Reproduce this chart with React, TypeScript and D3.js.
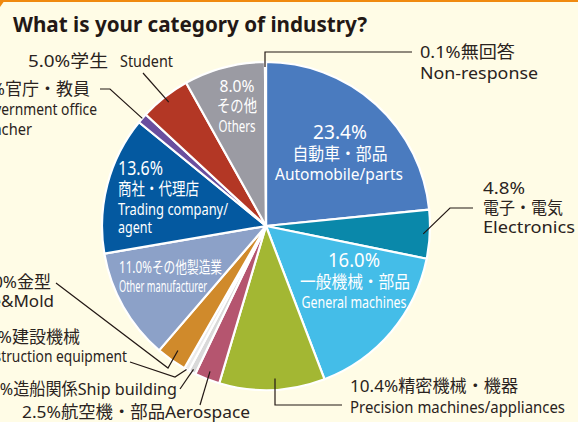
import React from "react";
import * as d3 from "d3";

// slices clockwise from 12 o'clock
const categories = [
  "Automobile/parts", "Electronics", "General machines", "Precision machines/appliances",
  "Aerospace", "Ship building", "Construction equipment", "Die&Mold",
  "Other manufacturer", "Trading company/agent", "Government office/Teacher",
  "Student", "Others", "Non-response",
];
const shares = [23.4, 4.8, 16.0, 10.4, 2.5, 0.7, 0.5, 3.0, 11.0, 13.6, 1.0, 5.0, 8.0, 0.1];
const sliceColors = [
  "#4a7bbf", "#0a88aa", "#44bde8", "#a3b733", "#b5556f", "#d9d9d9", "#ebebeb",
  "#d08a2b", "#8ca1c8", "#0459a0", "#6a4e9e", "#b33725", "#9b9ba3", "#e4e4e4",
];
const labelText = [
  ["23.4%", "自動車・部品", "Automobile/parts"],
  ["4.8%", "電子・電気", "Electronics"],
  ["16.0%", "一般機械・部品", "General machines"],
  ["10.4%精密機械・機器", "Precision machines/appliances"],
  ["2.5%航空機・部品Aerospace"],
  ["0.7%造船関係Ship building"],
  ["0.5%建設機械", "Construction equipment"],
  ["3.0%金型", "Die&Mold"],
  ["11.0%その他製造業", "Other manufacturer"],
  ["13.6%", "商社・代理店", "Trading company/", "agent"],
  ["1.0%官庁・教員", "Government office", "Teacher"],
  ["5.0%学生", "Student"],
  ["8.0%", "その他", "Others"],
  ["0.1%無回答", "Non-response"],
];
const title = "What is your category of industry?";

const W = 578, H = 422;
const cx = 266, cy = 226, R = 164;
const FONT = "'Noto Sans', 'Noto Sans CJK JP', sans-serif";
const DARK = "#2a2320";

type Line = { x: number; y: number; anchor?: string; size?: number; len?: number };
type Layout = { fill: string; lines: Line[]; leader?: { f: number; pts: number[][] } };

// label placement, one entry per category
const layout: Layout[] = [
  { fill: "#fff", lines: [
    { x: 340, y: 139, anchor: "middle", size: 19, len: 54 },
    { x: 340, y: 160, anchor: "middle", size: 17, len: 95 },
    { x: 339, y: 180, anchor: "middle", size: 17, len: 128 } ] },
  { fill: DARK, lines: [
    { x: 483, y: 194, size: 17, len: 42 },
    { x: 483, y: 214, size: 17, len: 80 },
    { x: 483, y: 233, size: 17, len: 92 } ],
    leader: { f: 0.96, pts: [[450, 208], [473, 208]] } },
  { fill: "#fff", lines: [
    { x: 354, y: 267, anchor: "middle", size: 19, len: 52 },
    { x: 355, y: 288, anchor: "middle", size: 17, len: 110 },
    { x: 354, y: 308, anchor: "middle", size: 17, len: 105 } ] },
  { fill: DARK, lines: [
    { x: 350, y: 392, size: 17, len: 168 },
    { x: 350, y: 413, size: 17, len: 215 } ],
    leader: { f: 0.93, pts: [[275, 405], [342, 405]] } },
  { fill: DARK, lines: [{ x: 22, y: 418, size: 17, len: 228 }],
    leader: { f: 0.95, pts: [[200, 405]] } },
  { fill: DARK, lines: [{ x: 177, y: 395, anchor: "end", size: 17, len: 200 }],
    leader: { f: 0.98, pts: [[180, 389]] } },
  { fill: DARK, lines: [
    { x: 80, y: 343, anchor: "end", size: 17 },
    { x: 127, y: 362, anchor: "end", size: 17, len: 158 } ],
    leader: { f: 1.0, pts: [[175, 377], [130, 362]] } },
  { fill: DARK, lines: [
    { x: 51, y: 288, anchor: "end", size: 17 },
    { x: 54, y: 307, anchor: "end", size: 17 } ],
    leader: { f: 0.93, pts: [[168, 368], [56, 283]] } },
  { fill: "#fff", lines: [
    { x: 119, y: 273, size: 16, len: 103 },
    { x: 119, y: 292, size: 16, len: 88 } ] },
  { fill: "#fff", lines: [
    { x: 118, y: 175, size: 19, len: 45 },
    { x: 118, y: 195, size: 17, len: 81 },
    { x: 118, y: 215, size: 17, len: 110 },
    { x: 118, y: 233, size: 17, len: 34 } ] },
  { fill: DARK, lines: [
    { x: 90, y: 95, anchor: "end", size: 17 },
    { x: 97, y: 115, anchor: "end", size: 17, len: 121 },
    { x: 32, y: 135, anchor: "end", size: 17, len: 54 } ],
    leader: { f: 1.0, pts: [[110, 89], [100, 89]] } },
  { fill: DARK, lines: [
    { x: 28, y: 67, size: 17, len: 80 },
    { x: 120, y: 67, size: 17, len: 53 } ],
    leader: { f: 0.96, pts: [[143, 73]] } },
  { fill: "#fff", lines: [
    { x: 237, y: 92, anchor: "middle", size: 17, len: 35 },
    { x: 237, y: 112, anchor: "middle", size: 17, len: 40 },
    { x: 237, y: 132, anchor: "middle", size: 17, len: 37 } ] },
  { fill: DARK, lines: [
    { x: 420, y: 58, size: 17, len: 95 },
    { x: 420, y: 79, size: 17, len: 118 } ],
    leader: { f: 0.97, pts: [[265, 52], [412, 52]] } },
];

export default function App() {
  const pie = d3.pie<number>().sort(null).value((d) => d).startAngle(0).endAngle(2 * Math.PI);
  const arcs = pie(shares);
  const arc = d3.arc<d3.PieArcDatum<number>>().innerRadius(0).outerRadius(R);
  const line = d3.line();

  const leaderPath = (i: number) => {
    const lay = layout[i];
    if (!lay.leader) return null;
    const a = arcs[i];
    const mid = (a.startAngle + a.endAngle) / 2;
    const r = R * lay.leader.f;
    let start: [number, number] = [cx + r * Math.sin(mid), cy - r * Math.cos(mid)];
    if (i === 3) start = [275, start[1]];
    if (i === 13) start = [265, start[1]];
    const pts = [start, ...lay.leader.pts] as [number, number][];
    return line(pts);
  };

  return (
    <svg width={W} height={H} style={{ position: "absolute", left: 0, top: 0 }}>
      <rect width={W} height={H} fill="#fffce6" />
      <rect width={W} height={2} fill="#f08a10" />
      <path d="M0,0 L5,0 L0,7 Z" fill="#f08a10" />
      <text x={13} y={32} fontFamily={FONT} fontWeight={700} fontSize={21} fill="#231815"
        textLength={354} lengthAdjust="spacingAndGlyphs">{title}</text>

      <g transform={`translate(${cx},${cy})`}>
        {arcs.map((a, i) => (
          <path key={categories[i]} d={arc(a) || ""} fill={sliceColors[i]} stroke="#fff" strokeWidth={2.2} strokeLinejoin="round" />
        ))}
      </g>

      {arcs.map((_, i) => (
        <path key={"l" + i} d={leaderPath(i) || ""} fill="none" stroke="#231815" strokeWidth={1.2} />
      ))}

      {layout.map((lay, i) =>
        lay.lines.map((ln, j) => (
          <text key={i + "-" + j} x={ln.x} y={ln.y} textAnchor={ln.anchor || "start"}
            fontFamily={FONT} fontSize={ln.size || 17} fill={lay.fill}
            textLength={ln.len} lengthAdjust={ln.len ? "spacingAndGlyphs" : undefined}>
            {labelText[i][j]}
          </text>
        ))
      )}
    </svg>
  );
}
